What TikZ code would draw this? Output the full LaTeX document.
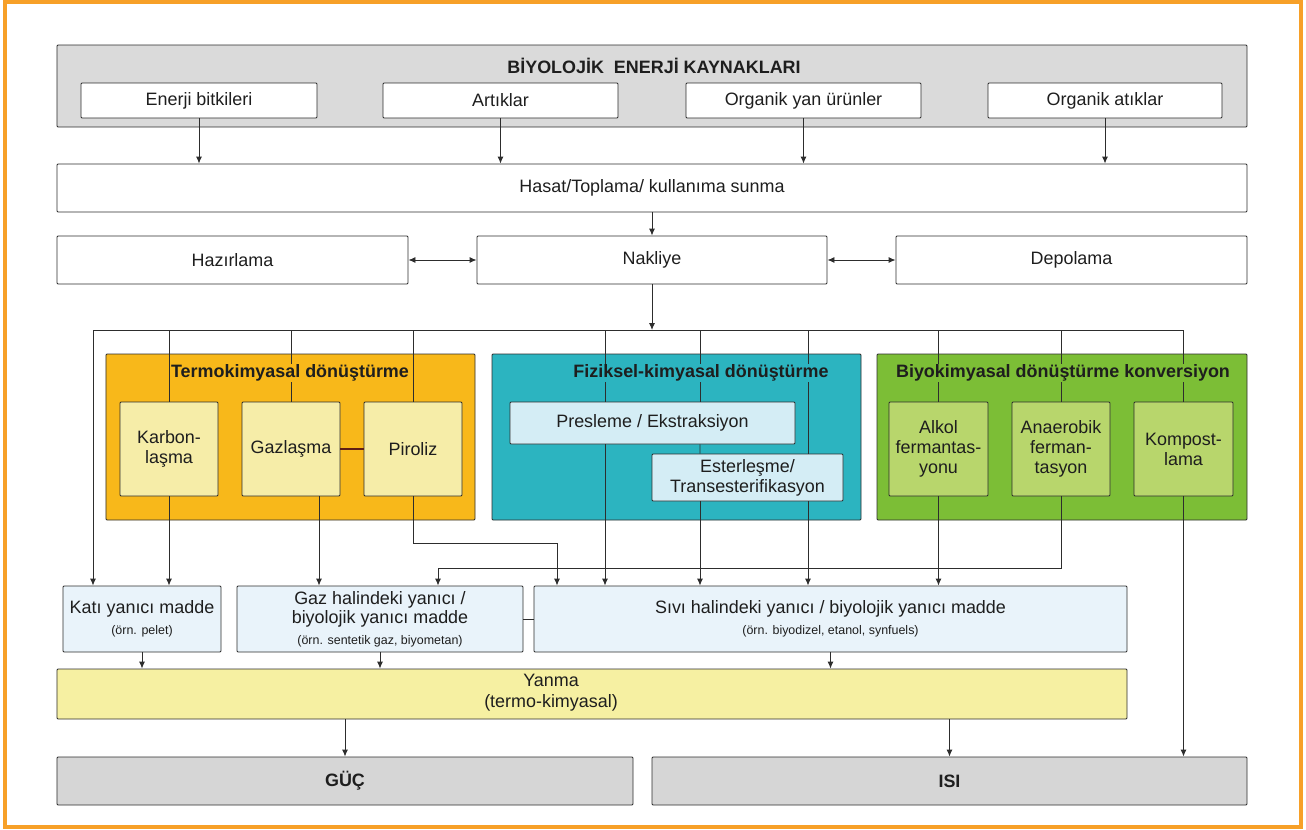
\documentclass[tikz,border=0pt]{standalone}
\usepackage{fontspec}
\setmainfont{Liberation Sans}
\usetikzlibrary{arrows.meta}
\definecolor{framec}{RGB}{247,160,40}
\definecolor{linec}{RGB}{45,45,45}
\definecolor{textc}{RGB}{30,30,30}
\definecolor{srcgray}{RGB}{218,218,218}
\definecolor{outc}{RGB}{214,214,214}
\definecolor{termoc}{RGB}{248,184,26}
\definecolor{termoin}{RGB}{246,237,168}
\definecolor{fizc}{RGB}{44,180,192}
\definecolor{fizin}{RGB}{212,237,245}
\definecolor{bioc}{RGB}{124,190,54}
\definecolor{bioin}{RGB}{184,214,108}
\definecolor{fuelc}{RGB}{233,243,250}
\definecolor{yanmac}{RGB}{246,240,162}
\definecolor{linkc}{RGB}{95,30,20}
\newcommand{\smalltxt}{\fontsize{12.5}{20}\selectfont}

\begin{document}
\begin{tikzpicture}[x=1bp,y=-1bp,
    box/.style={draw=linec,line width=0.9bp,inner sep=0pt,align=center,rounded corners=1bp,
      text=textc,font=\fontsize{18}{20}\selectfont},
    sz/.style 2 args={minimum width=#1bp,minimum height=#2bp},
    ttl/.style={inner sep=1bp,text=textc,font=\fontsize{18}{20}\selectfont\bfseries},
    wire/.style={draw=linec,line width=0.9bp},
    arr/.style={wire,-{Latex[length=7bp,width=6bp]}},
    darr/.style={wire,{Latex[length=7bp,width=6bp]}-{Latex[length=7bp,width=6bp]}}]
    \useasboundingbox (0,0) rectangle (1306,829);
    \draw[framec,line width=4.5bp] (5,2) rectangle (1301,827);

    \node[box,fill=srcgray,sz={1190}{82}] (src) at (652,86) {};
    \node[ttl,fill=srcgray] (srcT) at (654,66) {BİYOLOJİK\ \ ENERJİ KAYNAKLARI};
    \node[box,fill=white,sz={236}{35}] (eb) at (199,100.5) {Enerji bitkileri};
    \node[box,fill=white,sz={235}{35}] (ar) at (500.5,100.5) {Artıklar};
    \node[box,fill=white,sz={235}{35}] (oy) at (803.5,100.5) {Organik yan ürünler};
    \node[box,fill=white,sz={234}{35}] (oa) at (1105,100.5) {Organik atıklar};

    \node[box,sz={1190}{48}] (hasat) at (652,188) {Hasat/Toplama/ kullanıma sunma};
    \node[box,sz={351}{48}] (haz) at (232.5,260) {Hazırlama};
    \node[box,sz={350}{48}] (nak) at (652,260) {Nakliye};
    \node[box,sz={351}{48}] (dep) at (1071.5,260) {Depolama};

    \foreach \n in {eb,ar,oy,oa}
      \draw[arr] (\n) -- (\n |- hasat.north);
    \draw[arr] (hasat) -- (nak);
    \draw[darr] (haz) -- (nak);
    \draw[darr] (nak) -- (dep);

    \coordinate (bus) at (652,330);
    \coordinate (busL) at (93,330);
    \coordinate (busR) at (1184,330);
    \draw[arr] (nak) -- (bus);
    \draw[wire] (busL) -- (busR);

    \node[box,fill=termoc,sz={369}{166}] (termo) at (290.5,437) {};
    \node[box,fill=fizc,sz={369}{166}] (fiz) at (676.5,437) {};
    \node[box,fill=bioc,sz={370}{166}] (bio) at (1062,437) {};

    \node[box,fill=termoin,sz={98}{94}] (karb) at (169,449) {Karbon-\\laşma};
    \node[box,fill=termoin,sz={98}{94}] (gaz) at (291,449) {Gazlaşma};
    \node[box,fill=termoin,sz={98}{94}] (pir) at (413,449) {Piroliz};
    \node[box,fill=fizin,sz={285}{42}] (pres) at (652.5,423) {Presleme / Ekstraksiyon};
    \node[box,fill=fizin,sz={191}{47}] (ester) at (747.5,477.5) {Esterleşme/\\Transesterifikasyon};
    \node[box,fill=bioin,sz={99}{94}] (alk) at (938.5,449) {Alkol\\fermantas-\\yonu};
    \node[box,fill=bioin,sz={98}{94}] (ana) at (1061,449) {Anaerobik\\ferman-\\tasyon};
    \node[box,fill=bioin,sz={99}{94}] (komp) at (1183.5,449) {Kompost-\\lama};
    \draw[linkc,line width=2.2bp] (gaz) -- (pir);

    \node[box,fill=fuelc,sz={158}{66}] (kati) at (142,619)
      {Katı yanıcı madde\\[1bp]\smalltxt(örn. pelet)};
    \node[box,fill=fuelc,sz={286}{66}] (gazy) at (380,619)
      {Gaz halindeki yanıcı /\\[-1bp]biyolojik yanıcı madde\\[1bp]\smalltxt(örn. sentetik gaz, biyometan)};
    \node[box,fill=fuelc,sz={593}{66}] (sivi) at (830.5,619)
      {Sıvı halindeki yanıcı / biyolojik yanıcı madde\\[1bp]\smalltxt(örn. biyodizel, etanol, synfuels)};
    \node[box,fill=yanmac,sz={1070}{50}] (yanma) at (592,694) {};
    \node[align=center,inner sep=0pt,text=textc,font=\fontsize{18}{21}\selectfont] (yanmaT) at (551,693)
      {Yanma\\(termo-kimyasal)};
    \node[box,fill=outc,sz={576}{48},font=\fontsize{18}{20}\selectfont\bfseries] (guc) at (345,781) {GÜÇ};
    \node[box,fill=outc,sz={595}{48},font=\fontsize{18}{20}\selectfont\bfseries] (isi) at (949.5,781) {ISI};

    \draw[arr] (busL) -- (busL |- kati.north);
    \foreach \n in {karb,gaz,pir,alk,ana,komp}
      \draw[wire] (\n.north |- busL) -- (\n.north);
    \draw[wire] ([xshift=-47.5bp]pres.north |- busL) -- ([xshift=-47.5bp]pres.north);
    \draw[wire] ([xshift=47.5bp]pres.north |- busL) -- ([xshift=47.5bp]pres.north);
    \draw[wire] ([xshift=60.5bp]ester.north |- busL) -- ([xshift=60.5bp]ester.north);
    \draw[wire] ([xshift=47.5bp]pres.south) -- ([xshift=-47.5bp]ester.north);

    \coordinate (pirK) at (557,543);
    \coordinate (anaK) at (438,568);
    \draw[arr] (karb.south) -- (karb.south |- kati.north);
    \draw[arr] ([xshift=28bp]gaz.south) -- ([xshift=28bp]gaz.south |- gazy.north);
    \draw[arr] (pir.south) |- (pirK) -- (pirK |- sivi.north);
    \draw[arr] ([xshift=-47.5bp]pres.south) -- ([xshift=-47.5bp]pres.south |- sivi.north);
    \draw[arr] ([xshift=-47.5bp]ester.south) -- ([xshift=-47.5bp]ester.south |- sivi.north);
    \draw[arr] ([xshift=60.5bp]ester.south) -- ([xshift=60.5bp]ester.south |- sivi.north);
    \draw[arr] (alk.south) -- (alk.south |- sivi.north);
    \draw[arr] (ana.south) |- (anaK) -- (anaK |- gazy.north);
    \draw[arr] (komp.south) -- (komp.south |- isi.north);

    \foreach \n in {kati,gazy,sivi}
      \draw[arr] (\n.south) -- (\n.south |- yanma.north);
    \draw[wire] (gazy) -- (sivi);
    \draw[arr] (guc.north |- yanma.south) -- (guc.north);
    \draw[arr] (isi.north |- yanma.south) -- (isi.north);

    \node[ttl,fill=termoc] (termoT) at (290,373) {Termokimyasal dönüştürme};
    \node[ttl,fill=fizc] (fizT) at (701,373) {Fiziksel-kimyasal dönüştürme};
    \node[ttl,fill=bioc] (bioT) at (1063,373) {Biyokimyasal dönüştürme konversiyon};
  \end{tikzpicture}
\end{document}
